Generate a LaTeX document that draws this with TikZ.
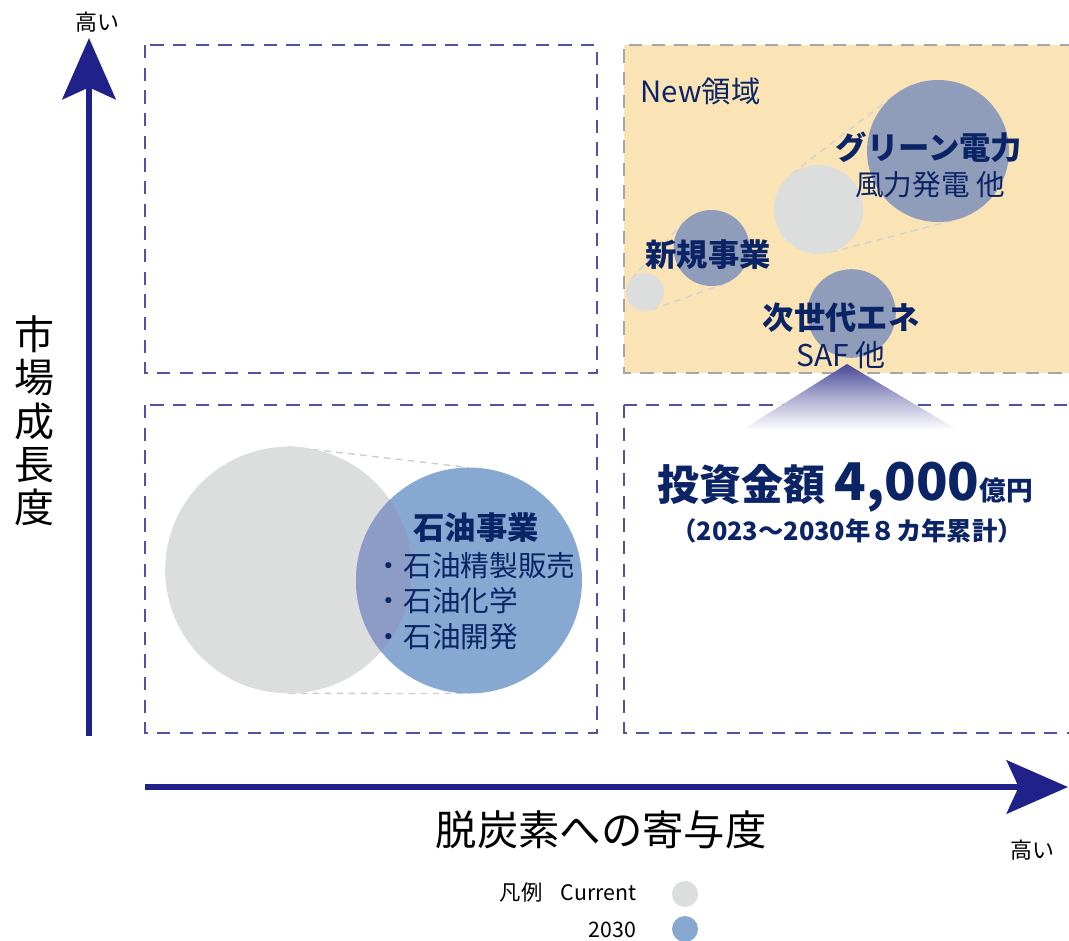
\documentclass[tikz,border=0pt]{standalone}
\usepackage{fontspec}
\setmainfont{Noto Sans CJK JP}
\usetikzlibrary{arrows.meta}

\definecolor{navy}{HTML}{0B2465}
\definecolor{axisblue}{HTML}{21218A}
\definecolor{boxblue}{HTML}{5252A2}
\definecolor{newbg}{HTML}{FAE4B6}
\definecolor{curgray}{HTML}{DCDDDD}
\definecolor{slate}{HTML}{8F9CBA}
\definecolor{oilblue}{HTML}{86A8D1}
\definecolor{oilmix}{HTML}{8D9BC7}
\definecolor{trib}{HTML}{48489A}

\pgfdeclarelayer{back}
\pgfsetlayers{back,main}

\begin{document}
\begin{tikzpicture}[x=0.75pt, y=-0.75pt,
  bubble/.style={circle, inner sep=0pt, outer sep=0pt, minimum size=#1*1.5pt},
  quad box/.style={draw=boxblue, line width=1.5pt, dash pattern=on 10pt off 7pt},
  tan line/.style={draw=#1, line width=1pt, dash pattern=on 5pt off 4pt},
  axis/.style={draw=axisblue, line width=4.5pt,
    -{Stealth[length=46pt, width=40pt, inset=9pt]}},
  head/.style={text=navy, font=\fontsize{23.5}{28}\selectfont\bfseries},
  sub/.style={text=navy, font=\fontsize{21.5}{26}\selectfont},
  plain/.style={text=black, font=\fontsize{#1}{#1}\selectfont}]

\useasboundingbox (0,0) rectangle (1069,940);

% quadrants
\draw[quad box] (145,45) rectangle (597,373);
\draw[quad box] (145,405) rectangle (597,733);
\draw[quad box] (624,405) rectangle (1073,733);
\begin{pgfonlayer}{back}
\fill[newbg] (624,45) rectangle (1073,373);
\draw[draw=gray!70, line width=1.5pt, dash pattern=on 10pt off 7pt]
  (1073,45) -- (624,45) -- (624,373) -- (1073,373);
\end{pgfonlayer}

% axes
\coordinate (y0) at (89,736);
\coordinate (y1) at (89,38);
\coordinate (x0) at (145,787);
\coordinate (x1) at (1068,787);
\draw[axis] (y0) -- (y1);
\draw[axis] (x0) -- (x1);

\node[plain=16.5] (hi-y) at (97,22) {高い};
\node[plain=16.5] (hi-x) at (1032,850) {高い};
\node[align=center, font=\fontsize{30}{32.5}\selectfont] (ylab) at (34,421)
  {市\\場\\成\\長\\度};
\node[plain=31] (xlab) at (601,830) {脱炭素への寄与度};

% oil business
\node[bubble=123.3, fill=curgray] (oil0) at (288.5,570) {};
\node[bubble=113, fill=oilblue] (oil1) at (469,580.5) {};
\begin{scope}
  \clip (oil0.center) circle[radius=92.5pt];
  \fill[oilmix] (oil1.center) circle[radius=84.75pt];
\end{scope}
\begin{pgfonlayer}{back}
\draw[tan line=gray!40] (oil0.north) -- (oil1.north);
\draw[tan line=gray!40] (oil0.south) -- (oil1.south);
\end{pgfonlayer}

\node[head] (t-oil) at (476,528) {石油事業};
\node[sub, anchor=west, align=left, font=\fontsize{21.5}{26.6}\selectfont] (t-oil2) at (370,601)
  {・石油精製販売\\・石油化学\\・石油開発};

% new domain
\node[text=navy, font=\fontsize{22}{26}\selectfont, anchor=west] (t-new) at (636,91) {New領域};

\node[bubble=19, fill=curgray] (sm0) at (645,292) {};
\node[bubble=38, fill=slate] (newbiz) at (711.5,248) {};
\node[bubble=44.5, fill=curgray] (md0) at (818.5,209.5) {};
\node[bubble=71, fill=slate] (green) at (938,151) {};
\node[bubble=44.3, fill=slate] (nextgen) at (851.5,313.5) {};

\begin{pgfonlayer}{back}
\draw[tan line=gray!35] (sm0.137.3) -- (newbiz.137.3);
\draw[tan line=gray!35] (sm0.-70.3) -- (newbiz.-70.3);
\draw[tan line=gray!35] (md0.127.6) -- (green.127.6);
\draw[tan line=gray!35] (md0.-75.4) -- (green.-75.4);
\end{pgfonlayer}

\node[head] (t-green) at (929,147) {グリーン電力};
\node[sub] (t-green2) at (930,185) {風力発電 他};
\node[head] (t-newbiz) at (708,255) {新規事業};
\node[head] (t-next) at (841,318) {次世代エネ};
\node[sub, font=\fontsize{22.5}{26}\selectfont] (t-next2) at (841,355) {SAF 他};

% investment
\shade[top color=trib, bottom color=white, middle color=trib!45]
  (847,364) -- (958,430) -- (742,430) -- cycle;
\node[text=navy, font=\bfseries] (t-inv) at (845,487)
  {\fontsize{31.5}{36}\selectfont 投資金額 \fontsize{39}{40}\selectfont 4,000\fontsize{20}{24}\selectfont 億円};
\node[text=navy, font=\fontsize{19}{22}\selectfont\bfseries] (t-inv2) at (847,531)
  {（2023〜2030年８カ年累計）};

% legend
\node[plain=16] (lg) at (521,892) {凡例};
\node[plain=16, anchor=east] (lg-cur) at (641,893) {Current};
\node[plain=16, anchor=east] (lg-new) at (641,930) {2030};
\node[bubble=13, fill=curgray] (lg-c0) at (685,894) {};
\node[bubble=13, fill=oilblue] (lg-c1) at (685,929) {};
\end{tikzpicture}
\end{document}
